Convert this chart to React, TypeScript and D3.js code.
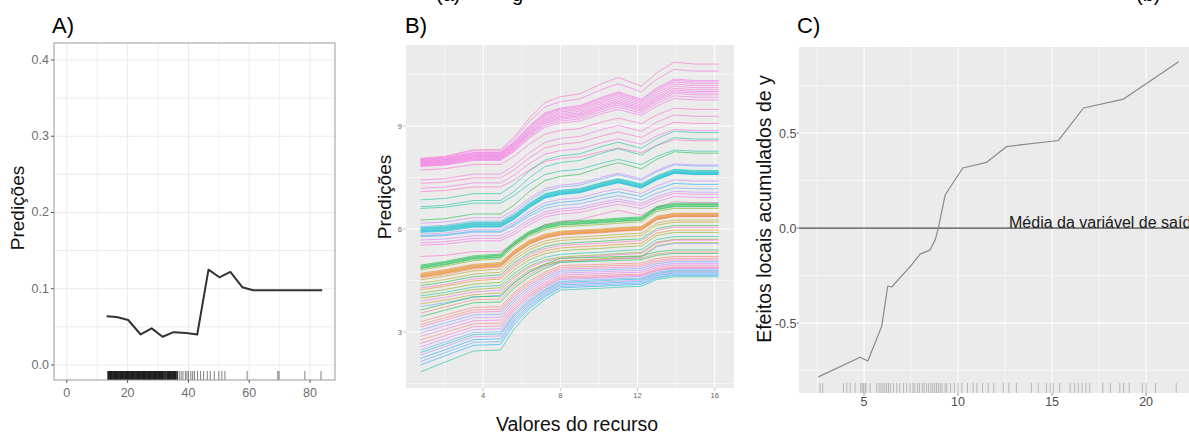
import * as d3 from 'd3';

const W = 1189;
const H = 434;
const FONT = '"Liberation Sans", Arial, Helvetica, sans-serif';

// ---------- A) dependência parcial ----------
const pdpX = [13.1, 16.4, 20.2, 24.3, 27.9, 31.5, 35.1, 39.3, 42.9, 46.6, 50.2, 53.8, 57.7, 61.3, 70, 84];
const pdpY = [0.064, 0.063, 0.059, 0.04, 0.048, 0.037, 0.043, 0.042, 0.04, 0.125, 0.115, 0.122, 0.102, 0.098, 0.098, 0.098];
const pdpRug = [
  13.6, 14, 14.4, 14.8, 15.2, 15.6, 16, 16.4, 16.8, 17.2, 17.6, 18, 18.4, 18.8, 19.2, 19.6, 20, 20.4,
  20.8, 21.2, 21.6, 22, 22.4, 22.8, 23.2, 23.6, 24, 24.4, 24.8, 25.2, 25.6, 26, 26.4, 26.8, 27.2, 27.6,
  28, 28.4, 28.8, 29.2, 29.6, 30, 30.4, 30.8, 31.2, 31.6, 32, 32.5, 33, 33.4, 33.8, 34.2, 34.6, 35,
  35.4, 35.8, 36.3, 37, 37.6, 38.2, 39, 39.5, 40, 40.8, 41.4, 42, 43, 44, 45, 46.2, 47.2, 48.5, 50,
  51, 52, 59.3, 69.4, 69.8, 78.3, 83.6,
];
const pdpXTicks = [0, 20, 40, 60, 80];
const pdpYTicks = [0, 0.1, 0.2, 0.3, 0.4];

// ---------- B) ICE ----------
const iceX = [0.75, 2.0, 3.5, 4.9, 5.6, 6.4, 7.2, 8.0, 9.0, 10.2, 11.0, 12.2, 13.0, 13.9, 15.0, 16.2];
// formas (fração da subida total)
const iceShapeLow = [0, 0.1, 0.22, 0.23, 0.45, 0.63, 0.76, 0.86, 0.87, 0.88, 0.89, 0.9, 0.97, 1, 1, 1];
const iceShapeMid = [0, 0.06, 0.15, 0.18, 0.38, 0.55, 0.65, 0.7, 0.72, 0.74, 0.76, 0.78, 0.95, 1, 1, 1];
const iceShapeHigh = [0, 0.02, 0.09, 0.09, 0.22, 0.42, 0.58, 0.64, 0.67, 0.78, 0.84, 0.75, 0.89, 1, 0.98, 0.98];
const iceShapes = [iceShapeLow, iceShapeMid, iceShapeHigh];
const icePalette: Record<string, string> = {
  pink: '#F564E3', rose: '#FF61C3', teal: '#00C19A', cyan: '#00BFC4', sky: '#00A9FF',
  blue: '#619CFF', violet: '#C77CFF', green: '#00BA38', lime: '#7CAE00', olive: '#B79F00',
  orange: '#E58700', salmon: '#F8766D',
};
// [início, fim, cor, forma]
const iceLines: [number, number, string, number][] = [
  [8.06, 10.86, 'rose', 2], [8.04, 10.65, 'pink', 2], [8.02, 10.37, 'pink', 2], [8.0, 10.33, 'pink', 2],
  [7.98, 10.28, 'pink', 2], [7.96, 10.22, 'pink', 2], [7.94, 10.16, 'pink', 2], [7.92, 10.1, 'pink', 2],
  [7.9, 10.05, 'pink', 2], [7.88, 10.0, 'pink', 2], [7.86, 9.95, 'pink', 2], [7.84, 9.88, 'pink', 2],
  [7.82, 9.8, 'pink', 2], [7.72, 9.52, 'rose', 2], [7.43, 9.32, 'pink', 2], [7.33, 9.11, 'rose', 2],
  [7.19, 8.9, 'pink', 2], [7.09, 8.6, 'rose', 2],
  [6.85, 8.85, 'teal', 2], [6.65, 8.66, 'teal', 2], [6.6, 8.3, 'teal', 2], [6.26, 8.25, 'green', 2],
  [6.17, 7.9, 'violet', 2],
  [6.07, 7.87, 'blue', 2], [6.04, 7.74, 'cyan', 2], [6.02, 7.72, 'cyan', 2], [6.0, 7.7, 'cyan', 2],
  [5.98, 7.68, 'cyan', 2], [5.96, 7.66, 'cyan', 2], [5.94, 7.65, 'cyan', 2], [5.92, 7.63, 'sky', 2],
  [5.9, 7.62, 'cyan', 2], [5.85, 7.43, 'violet', 2], [5.8, 7.33, 'sky', 2], [5.78, 7.2, 'blue', 2],
  [5.68, 7.1, 'violet', 2], [5.6, 7.04, 'pink', 2], [5.53, 6.95, 'pink', 2], [5.2, 6.8, 'rose', 2],
  [4.95, 6.75, 'green', 1], [4.92, 6.72, 'green', 1], [4.9, 6.7, 'green', 1], [4.87, 6.67, 'green', 1],
  [4.85, 6.65, 'green', 1], [4.81, 6.6, 'lime', 1],
  [4.71, 6.46, 'orange', 1], [4.68, 6.44, 'orange', 1], [4.66, 6.42, 'salmon', 1], [4.64, 6.4, 'orange', 1],
  [4.62, 6.38, 'orange', 1], [4.6, 6.37, 'orange', 1], [4.57, 6.36, 'salmon', 1],
  [4.52, 6.26, 'olive', 1], [4.42, 6.2, 'olive', 1], [4.35, 6.1, 'green', 1], [4.28, 6.05, 'rose', 1],
  [4.23, 5.97, 'orange', 1], [4.13, 5.9, 'lime', 1], [4.05, 5.78, 'teal', 1], [3.98, 5.7, 'lime', 1],
  [3.9, 5.68, 'pink', 1], [3.82, 5.6, 'olive', 1], [3.74, 5.58, 'blue', 1],
  [3.64, 5.39, 'green', 0], [3.55, 5.33, 'salmon', 0], [3.45, 5.29, 'green', 0], [3.3, 5.2, 'salmon', 0],
  [3.22, 5.15, 'salmon', 0], [3.15, 5.1, 'rose', 0], [3.06, 5.05, 'blue', 0], [2.97, 5.0, 'violet', 0],
  [2.87, 4.95, 'pink', 0], [2.77, 4.9, 'salmon', 0], [2.67, 4.87, 'rose', 0], [2.57, 4.85, 'violet', 0],
  [2.47, 4.81, 'blue', 0], [2.4, 4.78, 'cyan', 0], [2.33, 4.75, 'violet', 0], [2.23, 4.72, 'sky', 0],
  [2.14, 4.68, 'blue', 0], [2.04, 4.65, 'sky', 0], [1.84, 4.61, 'teal', 0],
];
const iceXTicks = [4, 8, 12, 16];
const iceYTicks = [3, 6, 9];

// ---------- C) ALE ----------
const aleX = [2.57, 4.79, 5.2, 5.94, 6.26, 6.47, 7.45, 7.98, 8.5, 8.78, 8.95, 9.31, 10.25, 11.52, 12.59, 15.34, 16.67, 18.8, 21.73];
const aleY = [-0.783, -0.68, -0.7, -0.516, -0.305, -0.31, -0.203, -0.137, -0.116, -0.063, 0.0, 0.174, 0.316, 0.346, 0.429, 0.461, 0.632, 0.679, 0.875];
const aleRug = [
  2.66, 2.8, 3.9, 4.08, 4.26, 4.52, 4.82, 4.9, 4.97, 5.05, 5.1, 5.32, 5.67, 5.8, 5.9, 6.0, 6.1, 6.2, 6.3,
  6.4, 6.56, 6.74, 6.9, 7.1, 7.27, 7.45, 7.6, 7.7, 7.85, 7.95, 8.1, 8.2, 8.33, 8.43, 8.55, 8.65, 8.75,
  8.85, 8.95, 9.05, 9.15, 9.31, 9.4, 9.6, 9.8, 10.0, 10.2, 10.5, 10.8, 11.0, 11.3, 11.6, 11.9, 12.4,
  12.7, 13.1, 13.9, 14.26, 14.7, 14.9, 15.06, 15.4, 15.96, 16.2, 16.4, 16.6, 16.8, 17.0, 17.7, 18.1,
  18.6, 18.8, 19.1, 19.8, 20.0, 20.5, 21.6,
];
const aleXTicks = [5, 10, 15, 20];
const aleYTicks = [-0.5, 0, 0.5];

function minors(ticks: number[], lo: number, hi: number) {
  const step = ticks[1] - ticks[0];
  const out: number[] = [];
  for (let v = ticks[0] - step / 2; v <= hi; v += step) if (v >= lo) out.push(v);
  return out;
}

function PanelA() {
  const x = d3.scaleLinear().domain([-4.2, 88.2]).range([54, 335]);
  const y = d3.scaleLinear().domain([-0.0197, 0.4223]).range([380, 43]);
  const [x0, x1] = x.range();
  const [yb, yt] = y.range();
  const line = d3.line<number>().x((_, i) => x(pdpX[i])).y((d) => y(d));
  return (
    <g>
      <rect x={x0} y={yt} width={x1 - x0} height={yb - yt} fill="#fff" />
      {x.ticks(10).map((t) => (
        <line key={'v' + t} x1={x(t)} x2={x(t)} y1={yt} y2={yb} stroke="#EBEBEB" strokeWidth={t % 20 === 0 ? 1 : 0.7} />
      ))}
      {y.ticks(8).map((t) => (
        <line key={'h' + t} x1={x0} x2={x1} y1={y(t)} y2={y(t)} stroke="#EBEBEB" strokeWidth={1} />
      ))}
      {pdpRug.map((r, i) => (
        <line key={'r' + i} x1={x(r)} x2={x(r)} y1={yb - 9} y2={yb} stroke="#000" strokeOpacity={r < 37 ? 0.85 : 0.5} strokeWidth={r < 37 ? 1.6 : 1} />
      ))}
      <path d={line(pdpY) ?? ''} fill="none" stroke="#333" strokeWidth={2} strokeLinejoin="round" />
      <rect x={x0} y={yt} width={x1 - x0} height={yb - yt} fill="none" stroke="#999" strokeWidth={1} />
      {pdpYTicks.map((t) => (
        <g key={'yt' + t}>
          <line x1={x0 - 3} x2={x0} y1={y(t)} y2={y(t)} stroke="#555" />
          <text x={x0 - 5} y={y(t) + 4} textAnchor="end" fontSize={12.5} fill="#6E6E6E">{t.toFixed(1)}</text>
        </g>
      ))}
      {pdpXTicks.map((t) => (
        <g key={'xt' + t}>
          <line x1={x(t)} x2={x(t)} y1={yb} y2={yb + 3} stroke="#555" />
          <text x={x(t)} y={yb + 17} textAnchor="middle" fontSize={12.5} fill="#6E6E6E">{t}</text>
        </g>
      ))}
      <text transform="translate(24,208) rotate(-90)" textAnchor="middle" fontSize={19} fill="#111">Predições</text>
      <text x={52} y={33} fontSize={22} fill="#000">A)</text>
    </g>
  );
}

function PanelB() {
  const x = d3.scaleLinear().domain([0, 17]).range([406, 734]);
  const y = d3.scaleLinear().domain([1.37, 11.36]).range([388, 45]);
  const [x0, x1] = x.range();
  const [yb, yt] = y.range();
  const line = d3.line<number>().x((_, i) => x(iceX[i])).y((d) => y(d));
  return (
    <g>
      <rect x={x0} y={yt} width={x1 - x0} height={yb - yt} fill="#EBEBEB" />
      {minors(iceXTicks, 0, 17).map((t) => (
        <line key={'mv' + t} x1={x(t)} x2={x(t)} y1={yt} y2={yb} stroke="#fff" strokeWidth={0.5} />
      ))}
      {minors(iceYTicks, 1.37, 11.36).map((t) => (
        <line key={'mh' + t} x1={x0} x2={x1} y1={y(t)} y2={y(t)} stroke="#fff" strokeWidth={0.5} />
      ))}
      {iceXTicks.map((t) => (
        <line key={'v' + t} x1={x(t)} x2={x(t)} y1={yt} y2={yb} stroke="#fff" strokeWidth={1} />
      ))}
      {iceYTicks.map((t) => (
        <line key={'h' + t} x1={x0} x2={x1} y1={y(t)} y2={y(t)} stroke="#fff" strokeWidth={1} />
      ))}
      {iceLines.map(([s, e, c, k], i) => {
        const vals = iceShapes[k].map((f) => s + (e - s) * f);
        return (
          <path key={'l' + i} d={line(vals) ?? ''} fill="none" stroke={icePalette[c]} strokeOpacity={0.55} strokeWidth={1} strokeLinejoin="round" />
        );
      })}
      {iceYTicks.map((t) => (
        <g key={'yt' + t}>
          <line x1={x0 - 3} x2={x0} y1={y(t)} y2={y(t)} stroke="#999" strokeWidth={0.6} />
          <text x={x0 - 4} y={y(t) + 2.6} textAnchor="end" fontSize={7.5} fill="#666">{t}</text>
        </g>
      ))}
      {iceXTicks.map((t) => (
        <g key={'xt' + t}>
          <line x1={x(t)} x2={x(t)} y1={yb} y2={yb + 3} stroke="#999" strokeWidth={0.6} />
          <text x={x(t)} y={yb + 10} textAnchor="middle" fontSize={7.5} fill="#666">{t}</text>
        </g>
      ))}
      <text transform="translate(391,197) rotate(-90)" textAnchor="middle" fontSize={19} fill="#111">Predições</text>
      <text x={577} y={431} textAnchor="middle" fontSize={19.5} fill="#111">Valores do recurso</text>
      <text x={405} y={33} fontSize={22} fill="#000">B)</text>
    </g>
  );
}

function PanelC() {
  const x = d3.scaleLinear().domain([1.54, 22.6]).range([799, 1195]);
  const y = d3.scaleLinear().domain([-0.868, 0.953]).range([393, 47]);
  const [x0, x1] = x.range();
  const [yb, yt] = y.range();
  const line = d3.line<number>().x((_, i) => x(aleX[i])).y((d) => y(d));
  return (
    <g>
      <rect x={x0} y={yt} width={x1 - x0} height={yb - yt} fill="#EBEBEB" />
      {minors(aleXTicks, 1.54, 22.6).map((t) => (
        <line key={'mv' + t} x1={x(t)} x2={x(t)} y1={yt} y2={yb} stroke="#fff" strokeWidth={0.5} />
      ))}
      {minors(aleYTicks, -0.868, 0.953).map((t) => (
        <line key={'mh' + t} x1={x0} x2={x1} y1={y(t)} y2={y(t)} stroke="#fff" strokeWidth={0.5} />
      ))}
      {aleXTicks.map((t) => (
        <line key={'v' + t} x1={x(t)} x2={x(t)} y1={yt} y2={yb} stroke="#fff" strokeWidth={1.1} />
      ))}
      {aleYTicks.map((t) => (
        <line key={'h' + t} x1={x0} x2={x1} y1={y(t)} y2={y(t)} stroke="#fff" strokeWidth={1.1} />
      ))}
      {aleRug.map((r, i) => (
        <line key={'r' + i} x1={x(r)} x2={x(r)} y1={yb - 10} y2={yb} stroke="#8A8A8A" strokeOpacity={0.6} strokeWidth={0.9} />
      ))}
      <line x1={x0} x2={x1} y1={y(0)} y2={y(0)} stroke="#7A7A7A" strokeWidth={1.6} />
      <path d={line(aleY) ?? ''} fill="none" stroke="#8A8A8A" strokeWidth={1.2} strokeLinejoin="round" />
      <text x={1009} y={y(0)} fontSize={16} fill="#1A1A1A">Média da variável de saída</text>
      {aleYTicks.map((t) => (
        <g key={'yt' + t}>
          <line x1={x0 - 2.5} x2={x0} y1={y(t)} y2={y(t)} stroke="#666" strokeWidth={0.8} />
          <text x={x0 - 2.5} y={y(t) + 4.5} textAnchor="end" fontSize={12.5} fill="#4D4D4D">{t.toFixed(1)}</text>
        </g>
      ))}
      {aleXTicks.map((t) => (
        <g key={'xt' + t}>
          <line x1={x(t)} x2={x(t)} y1={yb} y2={yb + 2.5} stroke="#666" strokeWidth={0.8} />
          <text x={x(t)} y={yb + 13} textAnchor="middle" fontSize={12.5} fill="#4D4D4D">{t}</text>
        </g>
      ))}
      <text transform="translate(771,209) rotate(-90)" textAnchor="middle" fontSize={19.5} fill="#111">Efeitos locais acumulados de y</text>
      <text x={797} y={33} fontSize={22} fill="#000">C)</text>
    </g>
  );
}

export default function App() {
  return (
    <div style={{ position: 'absolute', left: 0, top: 0, width: W, height: H, overflow: 'hidden', background: '#fff' }}>
      <svg width={W} height={H} style={{ display: 'block', fontFamily: FONT }}>
        <rect width={W} height={H} fill="#fff" />
        <PanelA />
        <PanelB />
        <PanelC />
        {/* restos do título cortado no topo da imagem */}
        <text x={436} y={0.5} fontSize={20} fill="#000">(a)</text>
        <text x={512} y={0.5} fontSize={20} fill="#000">g</text>
        <text x={1136} y={0.5} fontSize={20} fill="#000">(b)</text>
      </svg>
    </div>
  );
}
